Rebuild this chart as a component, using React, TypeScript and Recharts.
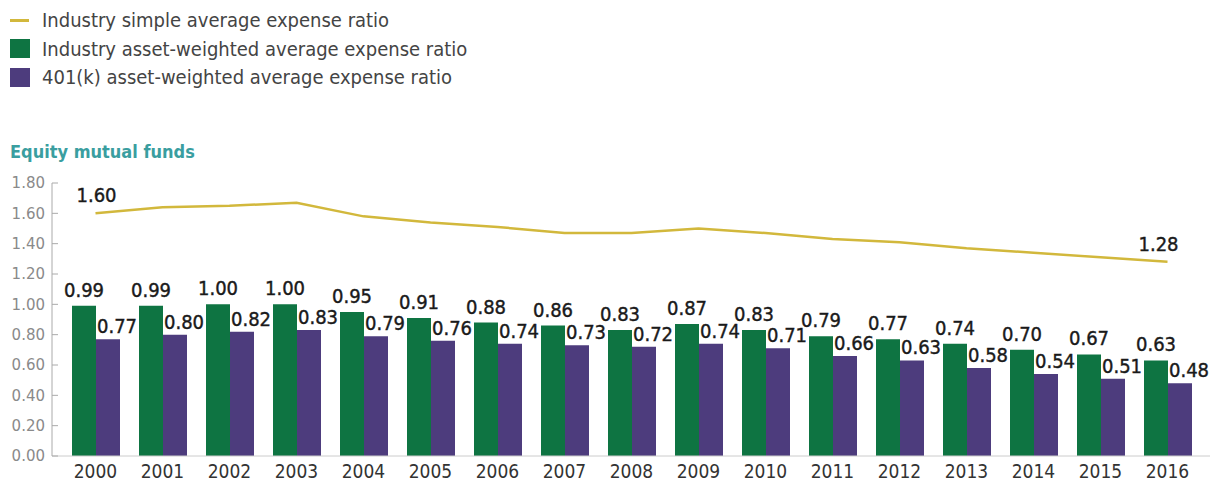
import { ComposedChart, Bar, Line, XAxis, YAxis, LabelList } from "recharts";

const years = ["2000", "2001", "2002", "2003", "2004", "2005", "2006", "2007", "2008", "2009", "2010", "2011", "2012", "2013", "2014", "2015", "2016"];
const simpleAvg = [1.6, 1.64, 1.65, 1.67, 1.58, 1.54, 1.51, 1.47, 1.47, 1.5, 1.47, 1.43, 1.41, 1.37, 1.34, 1.31, 1.28];
const industryWeighted = [0.99, 0.99, 1.0, 1.0, 0.95, 0.91, 0.88, 0.86, 0.83, 0.87, 0.83, 0.79, 0.77, 0.74, 0.7, 0.67, 0.63];
const k401Weighted = [0.77, 0.8, 0.82, 0.83, 0.79, 0.76, 0.74, 0.73, 0.72, 0.74, 0.71, 0.66, 0.63, 0.58, 0.54, 0.51, 0.48];
const yTicks = [0, 0.2, 0.4, 0.6, 0.8, 1.0, 1.2, 1.4, 1.6, 1.8];

const GREEN = "#0e7442";
const PURPLE = "#4d3c7d";
const YELLOW = "#d2b83c";
const FONT = "'DejaVu Sans Condensed', 'DejaVu Sans', sans-serif";

const data = years.map((y, i) => ({
  year: y,
  simple: simpleAvg[i],
  industry: industryWeighted[i],
  k401: k401Weighted[i],
}));

// value labels are a bit heavier than regular text in the original
const labelStyle = { fontFamily: FONT, fontSize: 20, fill: "#1a1a1a", stroke: "#1a1a1a", strokeWidth: 0.4 };

const GreenLabel = (props: any) => {
  const { x, y, width, value } = props;
  return (
    <text x={x + width / 2} y={y - 9} textAnchor="middle" {...labelStyle}>
      {Number(value).toFixed(2)}
    </text>
  );
};

const PurpleLabel = (props: any) => {
  const { x, y, value } = props;
  return (
    <text x={x + 1} y={y - 6} textAnchor="start" {...labelStyle}>
      {Number(value).toFixed(2)}
    </text>
  );
};

const LineLabel = (props: any) => {
  const { x, y, value, index } = props;
  if (index !== 0 && index !== years.length - 1) return null;
  const dx = index === 0 ? 1 : -9;
  return (
    <text x={x + dx} y={y - 11} textAnchor="middle" {...labelStyle}>
      {Number(value).toFixed(2)}
    </text>
  );
};

const legendRows = [
  { label: "Industry simple average expense ratio", kind: "line", color: YELLOW },
  { label: "Industry asset-weighted average expense ratio", kind: "box", color: GREEN },
  { label: "401(k) asset-weighted average expense ratio", kind: "box", color: PURPLE },
];

export default function App() {
  return (
    <div style={{ position: "absolute", left: 0, top: 0, width: 1211, height: 483, background: "#fff", fontFamily: FONT }}>
      {legendRows.map((r, i) => (
        <div key={r.label} style={{ position: "absolute", left: 10, top: 7 + i * 28.5, height: 26, display: "flex", alignItems: "center" }}>
          {r.kind === "line" ? (
            <div style={{ width: 19, height: 3, background: r.color, marginRight: 13 }} />
          ) : (
            <div style={{ width: 20, height: 19, background: r.color, marginRight: 12 }} />
          )}
          <span style={{ fontSize: 20, color: "#444" }}>{r.label}</span>
        </div>
      ))}
      <div style={{ position: "absolute", left: 10, top: 141, fontSize: 18, fontWeight: "bold", color: "#3a9ea0" }}>
        Equity mutual funds
      </div>
      <div style={{ position: "absolute", left: 0, top: 0 }}>
        <ComposedChart width={1211} height={483} data={data} margin={{ top: 183, right: 1, bottom: 0, left: 0 }} barGap={0} barSize={24}>
          <XAxis
            dataKey="year"
            height={27}
            padding={{ left: 10, right: 9 }}
            tickSize={0}
            tickMargin={9}
            stroke="#cccccc"
            tick={{ fill: "#333", fontSize: 19, fontFamily: FONT }}
          />
          <YAxis
            width={52}
            domain={[0, 1.8]}
            ticks={yTicks}
            tickSize={-6}
            tickMargin={13}
            stroke="#aaaaaa"
            tick={{ fill: "#8a8a8a", fontSize: 15, fontFamily: "'DejaVu Sans', sans-serif" }}
            tickFormatter={(v: number) => v.toFixed(2)}
          />
          <Bar dataKey="industry" fill={GREEN} isAnimationActive={false}>
            <LabelList dataKey="industry" content={GreenLabel} />
          </Bar>
          <Bar dataKey="k401" fill={PURPLE} isAnimationActive={false}>
            <LabelList dataKey="k401" content={PurpleLabel} />
          </Bar>
          <Line dataKey="simple" type="linear" stroke={YELLOW} strokeWidth={2.5} dot={false} isAnimationActive={false}>
            <LabelList dataKey="simple" content={LineLabel} />
          </Line>
        </ComposedChart>
      </div>
    </div>
  );
}
